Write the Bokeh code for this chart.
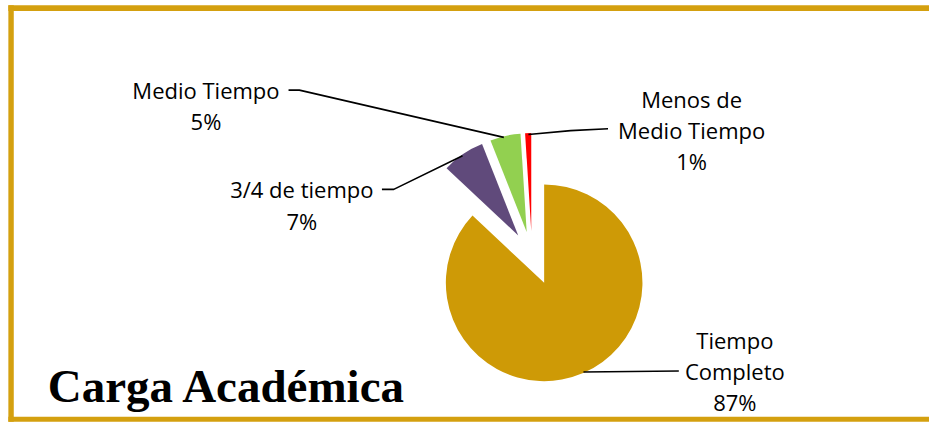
import numpy as np
from bokeh.plotting import figure
from bokeh.models import Range1d, ColumnDataSource
from bokeh.embed import file_html
from bokeh.resources import INLINE
from bokeh.core.properties import value

# ---- data ----
categories = ["Tiempo Completo", "3/4 de tiempo", "Medio Tiempo", "Menos de Medio Tiempo"]
values = [87, 7, 5, 1]
pct_labels = ["87%", "7%", "5%", "1%"]
colors = ["#CE9A06", "#604A7B", "#92D050", "#FF0000"]
title_text = "Carga Académica"

# ---- layout (reference-pixel data coordinates, y negative downwards) ----
W, H = 929, 425
p = figure(width=W, height=H, output_backend="svg", toolbar_location=None,
           x_range=Range1d(0, 945), y_range=Range1d(-441, 0),
           x_axis_type=None, y_axis_type=None, min_border=0,
           background_fill_color="white", border_fill_color="white")
p.outline_line_color = None
p.grid.visible = False

border_color = "#D4A00F"
# frame border (top, left, bottom)
p.quad(left=[8, 8, 8], right=[945, 13.5, 945], top=[-5, -5, -432], bottom=[-11, -437, -437],
       color=border_color, line_color=None)

# ---- pie (exploded) ----
vals = np.array(values, dtype=float)
frac = vals / vals.sum()
cum = np.concatenate([[0.0], np.cumsum(frac) * 360.0])
theta1 = cum[:-1]
theta2 = cum[1:]
start = np.radians(90.0 - theta2)
end = np.radians(90.0 - theta1)
mid = np.radians(90.0 - (theta1 + theta2) / 2.0)

cx, cy = 540.7, -264.5
explode = np.array([31.0, 25.0, 25.0, 25.0])
xs = cx + explode * np.cos(mid)
ys = cy + explode * np.sin(mid)

src = ColumnDataSource(dict(x=xs, y=ys, start=start, end=end, color=colors, cat=categories))
p.wedge(x="x", y="y", radius=100, start_angle="start", end_angle="end",
        direction="anticlock", fill_color="color", line_color=None, source=src)

# ---- leader lines ----
p.multi_line(xs=[[293, 304, 512], [388, 400, 470], [537, 580, 618], [593, 690]],
             ys=[[-93, -93, -142], [-196, -196, -161], [-139, -135, -133], [-385.5, -384.5]],
             line_color="black", line_width=1.6)

# ---- labels ----
lab_lines = [
    ["Tiempo", "Completo", pct_labels[0]],
    [categories[1], pct_labels[1]],
    [categories[2], pct_labels[2]],
    ["Menos de", "Medio Tiempo", pct_labels[3]],
]
lab_x = [747, 306.5, 209, 703]
lab_y0 = [352, 196, 93, 102]
lab_dy = 32.5
tx, ty, tt = [], [], []
for lines, x0, y0 in zip(lab_lines, lab_x, lab_y0):
    for k, t in enumerate(lines):
        tx.append(x0)
        ty.append(-(y0 + k * lab_dy))
        tt.append(t)
p.text(x=tx, y=ty, text=tt, text_font=value("Open Sans"), text_font_size=value("22px"),
       text_align="center", text_baseline="alphabetic", text_color="#000000")

# ---- title ----
p.text(x=[48], y=[-400], text=[title_text], text_font=value("Liberation Serif"),
       text_font_size=value("47px"), text_font_style="bold",
       text_align="left", text_baseline="alphabetic", text_color="#000000")

open("out.html", "w").write(file_html(p, INLINE))
